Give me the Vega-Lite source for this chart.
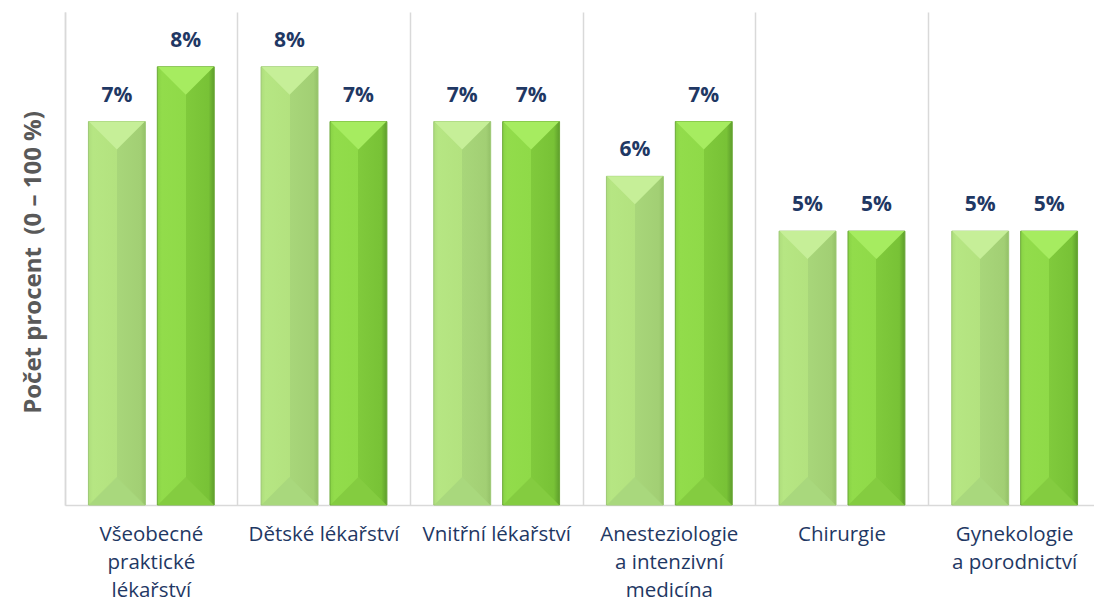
{
  "$schema": "https://vega.github.io/schema/vega-lite/v6.json",
  "width": 1036,
  "height": 493,
  "autosize": "none",
  "padding": {"left": 65, "top": 12, "right": 0, "bottom": 98},
  "background": "white",
  "config": {
    "view": {"stroke": null},
    "font": "Open Sans"
  },
  "data": {
    "values": [
      {"obor": "Všeobecné|praktické|lékařství", "serie": "A", "podil": 0.07},
      {"obor": "Všeobecné|praktické|lékařství", "serie": "B", "podil": 0.08},
      {"obor": "Dětské lékařství", "serie": "A", "podil": 0.08},
      {"obor": "Dětské lékařství", "serie": "B", "podil": 0.07},
      {"obor": "Vnitřní lékařství", "serie": "A", "podil": 0.07},
      {"obor": "Vnitřní lékařství", "serie": "B", "podil": 0.07},
      {"obor": "Anesteziologie|a intenzivní|medicína", "serie": "A", "podil": 0.06},
      {"obor": "Anesteziologie|a intenzivní|medicína", "serie": "B", "podil": 0.07},
      {"obor": "Chirurgie", "serie": "A", "podil": 0.05},
      {"obor": "Chirurgie", "serie": "B", "podil": 0.05},
      {"obor": "Gynekologie|a porodnictví", "serie": "A", "podil": 0.05},
      {"obor": "Gynekologie|a porodnictví", "serie": "B", "podil": 0.05}
    ]
  },
  "encoding": {
    "x": {
      "field": "obor",
      "type": "nominal",
      "sort": null,
      "scale": {"paddingInner": 0, "paddingOuter": 0},
      "axis": {
        "title": null,
        "labelAngle": 0,
        "labelExpr": "split(datum.value, '|')",
        "labelFont": "Open Sans",
        "labelFontSize": 20.5,
        "labelColor": "#1f3864",
        "labelLineHeight": 28,
        "labelPadding": 19,
        "labelBaseline": "top",
        "ticks": false,
        "domainColor": "#d9d9d9",
        "domainWidth": 1.5,
        "grid": true,
        "gridColor": "#d9d9d9",
        "gridWidth": 1.5,
        "bandPosition": 0
      }
    },
    "xOffset": {
      "field": "serie",
      "type": "nominal",
      "scale": {"domain": ["A", "B"], "paddingInner": 0.174, "paddingOuter": 0.34}
    },
    "y": {
      "field": "podil",
      "type": "quantitative",
      "scale": {"domain": [0, 0.09], "nice": false},
      "axis": {
        "title": "Počet procent\u00a0\u00a0(0 – 100 %)",
        "titleFont": "Open Sans",
        "titleFontSize": 24,
        "titleFontWeight": "bold",
        "titleColor": "#595959",
        "titlePadding": 20,
        "titleY": 250,
        "labels": false,
        "ticks": false,
        "grid": false,
        "domainColor": "#d9d9d9",
        "domainWidth": 1.5
      }
    }
  },
  "layer": [
    {
      "transform": [{"filter": "datum.serie === 'A'"}],
      "mark": {
        "type": "bar",
        "stroke": "#9cc873",
        "strokeWidth": 1,
        "color": {
          "gradient": "linear",
          "x1": 0, "x2": 1, "y1": 0, "y2": 0,
          "stops": [
            {"offset": 0, "color": "#aedd7c"},
            {"offset": 0.08, "color": "#b6e683"},
            {"offset": 0.5, "color": "#b3e27f"},
            {"offset": 0.5, "color": "#a8d67a"},
            {"offset": 0.92, "color": "#a2cf74"},
            {"offset": 1, "color": "#94c168"}
          ]
        }
      }
    },
    {
      "transform": [{"filter": "datum.serie === 'B'"}],
      "mark": {
        "type": "bar",
        "stroke": "#6aa836",
        "strokeWidth": 1,
        "color": {
          "gradient": "linear",
          "x1": 0, "x2": 1, "y1": 0, "y2": 0,
          "stops": [
            {"offset": 0, "color": "#88d245"},
            {"offset": 0.08, "color": "#92dc4b"},
            {"offset": 0.5, "color": "#8fda48"},
            {"offset": 0.5, "color": "#80ca3c"},
            {"offset": 0.9, "color": "#78c236"},
            {"offset": 1, "color": "#5e9e2c"}
          ]
        }
      }
    },
    {
      "mark": {
        "type": "point",
        "filled": true,
        "opacity": 1,
        "strokeWidth": 0,
        "shape": "M-1,0L1,0L0,1Z",
        "size": 3136
      },
      "encoding": {
        "color": {
          "condition": {"test": "datum.serie === 'A'", "value": "#c6ef98"},
          "value": "#a6ec60"
        }
      }
    },
    {
      "mark": {
        "type": "point",
        "filled": true,
        "opacity": 1,
        "strokeWidth": 0,
        "shape": "M-1,0L1,0L0,-1Z",
        "size": 3136
      },
      "encoding": {
        "y": {"datum": 0, "type": "quantitative"},
        "color": {
          "condition": {"test": "datum.serie === 'A'", "value": "#a9d87d"},
          "value": "#84cc40"
        }
      }
    },
    {
      "mark": {
        "type": "text",
        "dy": -26,
        "fontSize": 21,
        "fontWeight": "bold",
        "font": "Open Sans",
        "color": "#1f3864"
      },
      "encoding": {
        "text": {"field": "podil", "type": "quantitative", "format": ".0%"}
      }
    }
  ]
}
